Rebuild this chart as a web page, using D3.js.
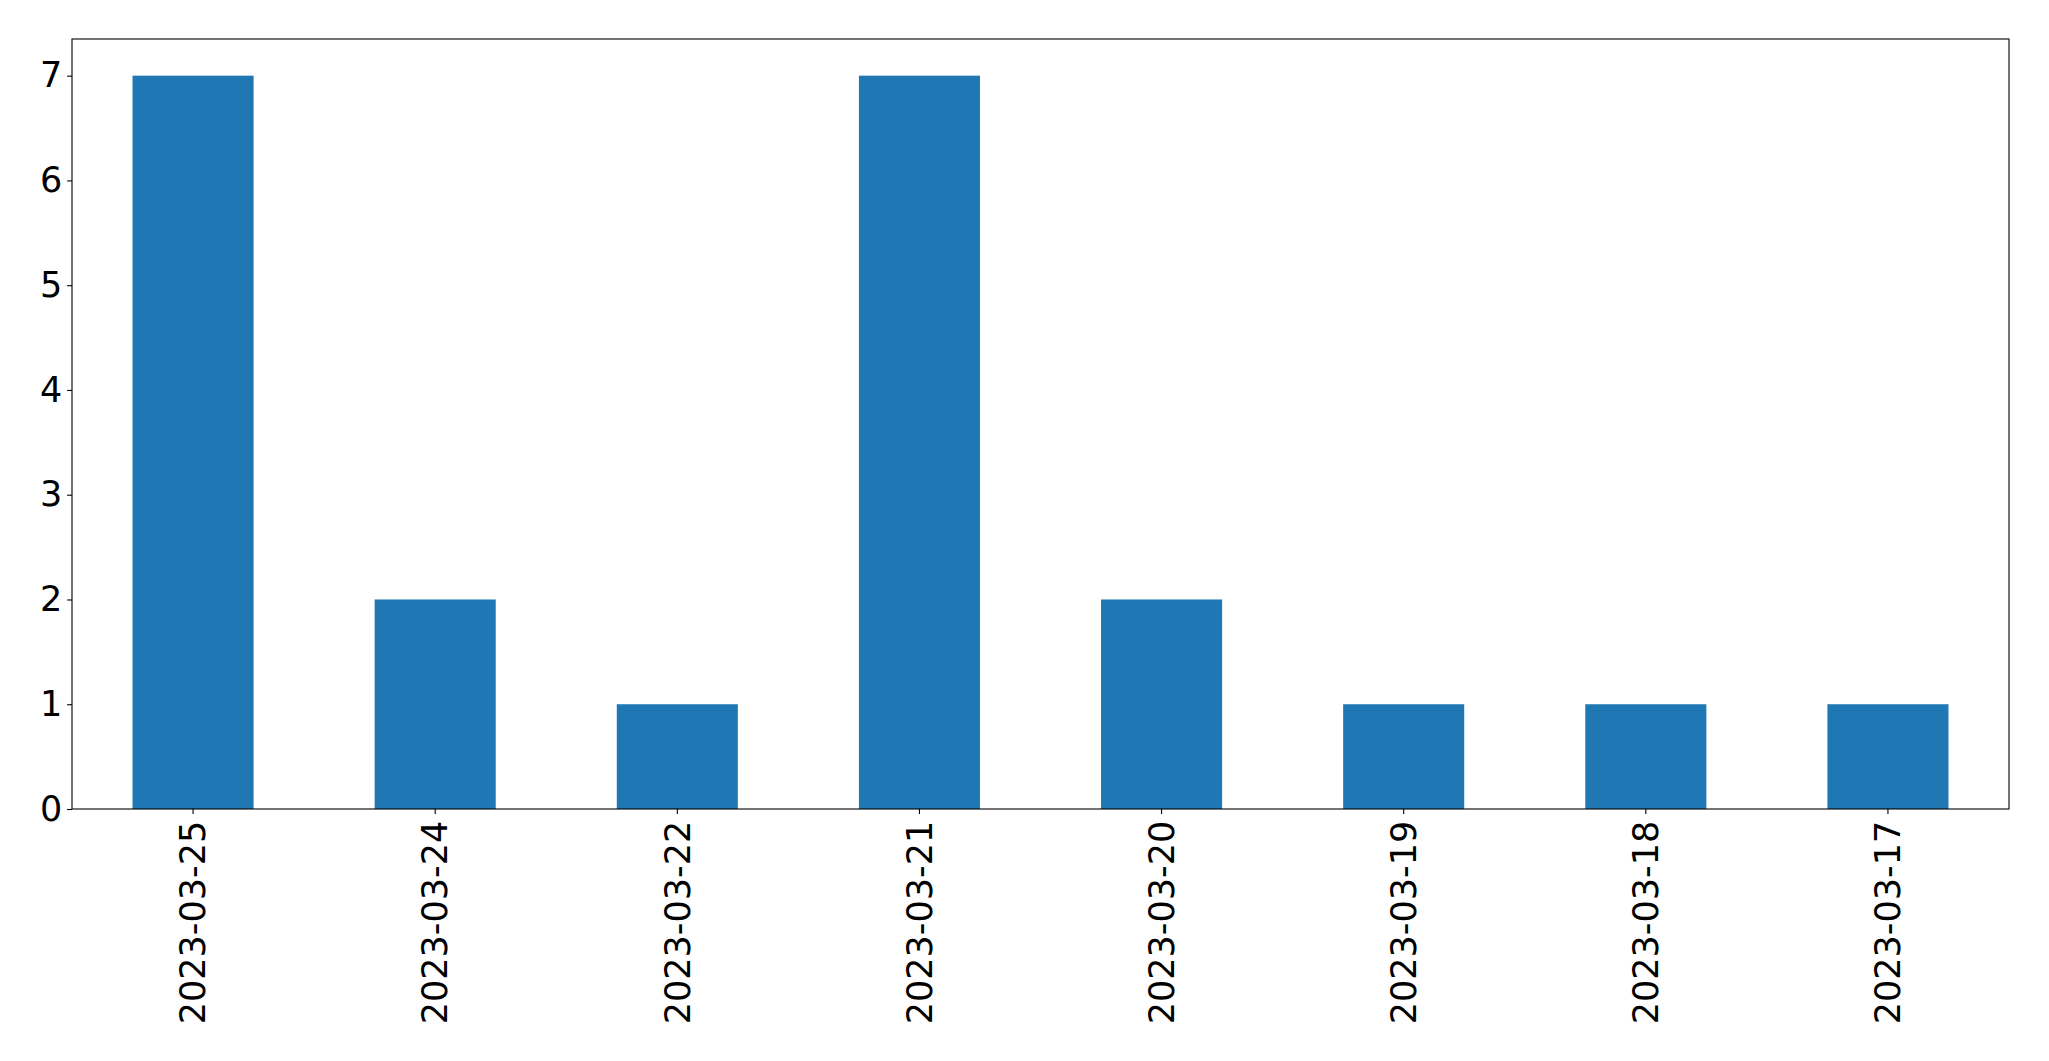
<!DOCTYPE html>
<html>
<head>
<meta charset="utf-8">
<script src="https://cdn.jsdelivr.net/npm/d3@7"></script>
<style>
  html, body { margin: 0; padding: 0; background: #fff; }
  svg { display: block; }
  text { font-family: "DejaVu Sans", sans-serif; fill: #000; }
</style>
</head>
<body>
<svg id="chart" width="2049" height="1061"></svg>
<script>
const categories = ["2023-03-25", "2023-03-24", "2023-03-22", "2023-03-21", "2023-03-20", "2023-03-19", "2023-03-18", "2023-03-17"];
const values = [7, 2, 1, 7, 2, 1, 1, 1];
const yTicks = [0, 1, 2, 3, 4, 5, 6, 7];

const W = 2049, H = 1061;
const plot = { left: 72, right: 2009, top: 39, bottom: 809 };
const fontSize = 35;
const tickLen = 4.9, tickPad = 4.9;

const svg = d3.select("#chart");

const x = d3.scaleBand()
  .domain(categories)
  .range([plot.left, plot.right])
  .paddingInner(0.5)
  .paddingOuter(0.25);

const y = d3.scaleLinear()
  .domain([0, 7.35])
  .range([plot.bottom, plot.top]);

// bars
svg.append("g")
  .selectAll("rect")
  .data(categories.map((c, i) => ({ c, v: values[i] })))
  .join("rect")
  .attr("x", d => x(d.c))
  .attr("width", x.bandwidth())
  .attr("y", d => y(d.v))
  .attr("height", d => y(0) - y(d.v))
  .attr("fill", "#1f77b4");

// y axis
const yAxis = d3.axisLeft(y)
  .tickValues(yTicks)
  .tickFormat(d3.format("d"))
  .tickSize(tickLen)
  .tickPadding(tickPad);
const gy = svg.append("g")
  .attr("transform", `translate(${plot.left},0)`)
  .call(yAxis);
gy.select(".domain").remove();
gy.selectAll(".tick line").attr("stroke", "#000").attr("stroke-width", 1.1);
gy.selectAll(".tick text")
  .attr("font-size", fontSize)
  .attr("font-family", "DejaVu Sans, sans-serif")
  .attr("fill", "#000");

// x axis
const xAxis = d3.axisBottom(x)
  .tickSize(tickLen)
  .tickPadding(tickPad);
const gx = svg.append("g")
  .attr("transform", `translate(0,${plot.bottom})`)
  .call(xAxis);
gx.select(".domain").remove();
gx.selectAll(".tick line").attr("stroke", "#000").attr("stroke-width", 1.1);
gx.selectAll(".tick text")
  .attr("font-size", fontSize)
  .attr("font-family", "DejaVu Sans, sans-serif")
  .attr("fill", "#000")
  .attr("transform", "rotate(-90)")
  .attr("text-anchor", "end")
  .attr("x", -(tickLen + tickPad + 2))
  .attr("y", 0)
  .attr("dy", "0.35em");

// frame
svg.append("rect")
  .attr("x", plot.left)
  .attr("y", plot.top)
  .attr("width", plot.right - plot.left)
  .attr("height", plot.bottom - plot.top)
  .attr("fill", "none")
  .attr("stroke", "#000")
  .attr("stroke-width", 1.1);
</script>
</body>
</html>
